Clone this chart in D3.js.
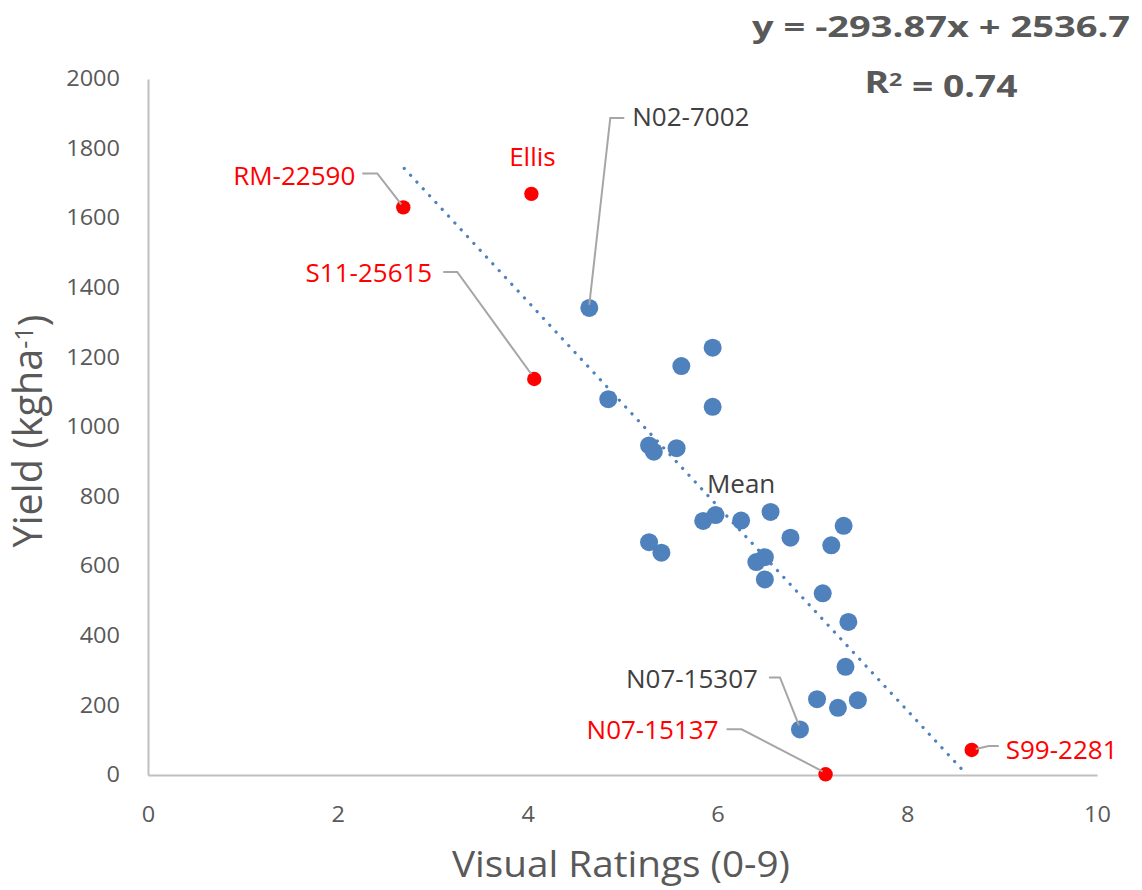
<!DOCTYPE html>
<html>
<head>
<meta charset="utf-8">
<script src="https://cdn.jsdelivr.net/npm/d3@7/dist/d3.min.js"></script>
<style>
  body { margin: 0; background: #fff; }
  text { font-family: "Open Sans", "Noto Sans", sans-serif; }
</style>
</head>
<body>
<svg id="chart" width="1142" height="890"></svg>
<script>
// Axis ticks
const xTicks = [0, 2, 4, 6, 8, 10];
const yTicks = [0, 200, 400, 600, 800, 1000, 1200, 1400, 1600, 1800, 2000];

// Highlighted genotypes (red markers)
const redNames   = ["RM-22590", "Ellis", "S11-25615", "N07-15137", "S99-2281"];
const redRatings = [2.69, 4.04, 4.07, 7.14, 8.68];
const redYields  = [1631, 1670, 1138, 2, 72];

// Remaining genotypes (blue markers)
const blueNames = ["N02-7002", "", "", "", "", "", "", "", "", "", "Mean", "", "", "", "",
                   "", "", "", "", "", "", "", "", "", "", "", "N07-15307"];
const blueRatings = [4.65, 5.95, 5.62, 5.95, 4.85, 5.28, 5.33, 5.57, 5.85, 5.98, 6.25, 6.56,
                     5.28, 5.41, 6.77, 7.33, 7.20, 6.41, 6.50, 6.50, 7.11, 7.38, 7.35, 7.05,
                     7.27, 7.48, 6.87];
const blueYields  = [1342, 1228, 1175, 1058, 1080, 947, 929, 939, 730, 747, 731, 756,
                     669, 639, 682, 716, 660, 612, 626, 562, 522, 440, 311, 218,
                     193, 215, 131];

// Linear trend fitted to all genotypes
const slope = -293.87;
const intercept = 2536.7;
const rSquared = 0.74;
const trendStart = 2.7;

const red = "#FF0000";
const blue = "#4F81BD";
const labelGrey = "#404040";
const tickGrey = "#595959";
const leaderGrey = "#A6A6A6";

// Label placement relative to each marker (pixels): text anchor, offset, leader path
const labelLayout = {
  "RM-22590":  { anchor: "end",    dx: -48,  dy: -32,  leader: [[-41, -34], [-26, -34], [-2, -3]] },
  "Ellis":     { anchor: "middle", dx: 1,    dy: -37 },
  "S11-25615": { anchor: "end",    dx: -102, dy: -106, leader: [[-91, -107], [-77, -107], [-3, -5]] },
  "N07-15137": { anchor: "end",    dx: -107, dy: -44,  leader: [[-99, -45], [-84, -45], [-3, -3]] },
  "S99-2281":  { anchor: "start",  dx: 34,   dy: 0,    leader: [[4, -1], [17, -4], [27, -4]] },
  "N02-7002":  { anchor: "start",  dx: 43,   dy: -191, leader: [[0, -3], [21, -190], [35, -190]] },
  "Mean":      { anchor: "middle", dx: 0,    dy: -37 },
  "N07-15307": { anchor: "end",    dx: -42,  dy: -51,  leader: [[-31, -52], [-20, -52], [-1, -4]] }
};

const svg = d3.select("#chart");

const x = d3.scaleLinear().domain([0, 10]).range([148, 1097]);
const y = d3.scaleLinear().domain([0, 2000]).range([775, 79]);

// Axes
const xAxis = svg.append("g")
  .attr("transform", `translate(0,${y(0)})`)
  .call(d3.axisBottom(x).tickValues(xTicks).tickSize(0).tickPadding(32).tickFormat(d3.format("d")));
const yAxis = svg.append("g")
  .attr("transform", `translate(${x(0)},0)`)
  .call(d3.axisLeft(y).tickValues(yTicks).tickSize(0).tickPadding(28).tickFormat(d3.format("d")));

[xAxis, yAxis].forEach(g => {
  g.select(".domain").attr("stroke", "#BFBFBF").attr("stroke-width", 2);
  g.selectAll(".tick text")
    .attr("fill", tickGrey)
    .style("font-size", "21px")
    .style("font-family", "'Open Sans', sans-serif")
    .each(function () {
      const w = this.getComputedTextLength();
      d3.select(this).attr("textLength", w * 1.12).attr("lengthAdjust", "spacingAndGlyphs");
    });
});

// Axis titles
svg.append("text")
  .attr("x", 621).attr("y", 877)
  .attr("text-anchor", "middle")
  .attr("fill", tickGrey)
  .style("font-size", "36px")
  .attr("textLength", 338).attr("lengthAdjust", "spacingAndGlyphs")
  .text("Visual Ratings (0-9)");

const yTitle = svg.append("text")
  .attr("transform", "translate(42,431) rotate(-90)")
  .attr("text-anchor", "middle")
  .attr("fill", tickGrey)
  .style("font-size", "36px");
yTitle.append("tspan").text("Yield (kgha");
yTitle.append("tspan").attr("dy", "-0.36em").style("font-size", "0.64em").text("-1");
yTitle.append("tspan").attr("dy", "0.36em").text(")");
{
  const len = yTitle.node().getComputedTextLength();
  yTitle.style("font-size", (36 * 233 / len).toFixed(2) + "px");
}

// Trend line (dotted)
const trendLine = d3.line().x(d => x(d)).y(d => y(slope * d + intercept));
svg.append("path")
  .datum([trendStart, -intercept / slope])
  .attr("d", trendLine)
  .attr("fill", "none")
  .attr("stroke", blue)
  .attr("stroke-width", 3.2)
  .attr("stroke-linecap", "round")
  .attr("stroke-dasharray", "0.1 9.2");

// Markers
const blueData = blueRatings.map((r, i) => ({ name: blueNames[i], rating: r, yield: blueYields[i], color: blue, r: 9 }));
const redData = redRatings.map((r, i) => ({ name: redNames[i], rating: r, yield: redYields[i], color: red, r: 7.2 }));

svg.append("g").selectAll("circle").data(blueData).join("circle")
  .attr("cx", d => x(d.rating)).attr("cy", d => y(d.yield))
  .attr("r", d => d.r).attr("fill", d => d.color);
svg.append("g").selectAll("circle").data(redData).join("circle")
  .attr("cx", d => x(d.rating)).attr("cy", d => y(d.yield))
  .attr("r", d => d.r).attr("fill", d => d.color);

// Data labels with leader lines
const labelled = blueData.concat(redData).filter(d => d.name && labelLayout[d.name]);
const leaders = svg.append("g");
const labels = svg.append("g");
labelled.forEach(d => {
  const L = labelLayout[d.name];
  const px = x(d.rating), py = y(d.yield);
  if (L.leader) {
    leaders.append("path")
      .attr("d", d3.line()(L.leader.map(p => [px + p[0], py + p[1]])))
      .attr("fill", "none")
      .attr("stroke", leaderGrey)
      .attr("stroke-width", 2);
  }
  labels.append("text")
    .attr("x", px + L.dx).attr("y", py + L.dy)
    .attr("dy", "0.35em")
    .attr("text-anchor", L.anchor)
    .attr("fill", d.color === red ? red : labelGrey)
    .style("font-size", "26px")
    .text(d.name);
});

// Regression equation
svg.append("text")
  .attr("x", 941).attr("y", 37)
  .attr("text-anchor", "middle")
  .attr("fill", tickGrey)
  .style("font-size", "29px").style("font-weight", "bold")
  .attr("textLength", 378).attr("lengthAdjust", "spacingAndGlyphs")
  .text(`y = ${slope}x + ${intercept}`);

const r2Text = svg.append("text")
  .attr("x", 941).attr("y", 93)
  .attr("text-anchor", "middle")
  .attr("fill", tickGrey)
  .style("font-size", "30px").style("font-weight", "bold");
r2Text.append("tspan").text("R");
r2Text.append("tspan").attr("dy", "-0.38em").style("font-size", "0.62em").text("2");
r2Text.append("tspan").attr("dy", "0.38em").text(` = ${rSquared}`);
{
  const len = r2Text.node().getComputedTextLength();
  r2Text.attr("transform", `translate(941,0) scale(${153 / len},1) translate(-941,0)`);
}
</script>
</body>
</html>
